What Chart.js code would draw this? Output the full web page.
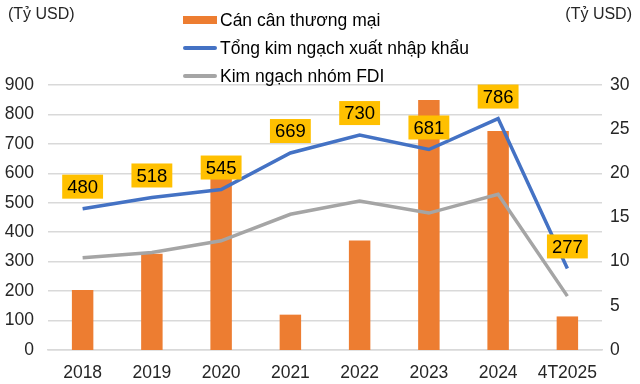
<!DOCTYPE html>
<html>
<head>
<meta charset="utf-8">
<script src="https://cdn.jsdelivr.net/npm/chart.js@4.4.1/dist/chart.umd.min.js"></script>
<style>
    body { margin: 0; background: #fff; font-family: 'Liberation Sans', Arial, sans-serif; }
    #wrap { position: relative; width: 640px; height: 384px; }
    .tieuDe { position: absolute; top: 5px; font-size: 16px; color: #262626; }
    #legenda { position: absolute; left: 183px; top: 6px; font-size: 17.5px; color: #000; }
    #legenda .item { height: 28px; display: flex; align-items: center; }
    #legenda .sw { width: 34px; margin-right: 3px; }
</style>
</head>
<body>
<div id="wrap">
    <canvas id="grafico" width="640" height="384"></canvas>
    <div class="tieuDe" style="left:8px">(Tỷ USD)</div>
    <div class="tieuDe" style="right:8px">(Tỷ USD)</div>
    <div id="legenda"></div>
</div>
<script>
var nam = ['2018', '2019', '2020', '2021', '2022', '2023', '2024', '4T2025'];
var canCan = [6.8, 10.9, 19.6, 4.0, 12.4, 28.3, 24.8, 3.8];
var tongKim = [480, 518, 545, 669, 730, 681, 786, 277];
var kimFDI = [313, 331, 371, 461, 506, 465, 529, 183];
var ticksTrai = [0, 100, 200, 300, 400, 500, 600, 700, 800, 900];
var ticksPhai = [0, 5, 10, 15, 20, 25, 30];

var fonte = "'Liberation Sans', Arial, sans-serif";

var nhanDuLieu = {
    id: 'nhanDuLieu',
    afterDatasetsDraw: function (chart) {
        var ctx = chart.ctx;
        var meta = chart.getDatasetMeta(1);
        ctx.save();
        ctx.font = '18.5px ' + fonte;
        ctx.textAlign = 'center';
        ctx.textBaseline = 'middle';
        meta.data.forEach(function (p, i) {
            var txt = String(tongKim[i]);
            var w = ctx.measureText(txt).width + 10;
            var h = 24;
            var cx = p.x, cy = p.y - 22;
            ctx.fillStyle = '#FFC000';
            ctx.fillRect(cx - w / 2, cy - h / 2, w, h);
            ctx.fillStyle = '#000';
            ctx.fillText(txt, cx, cy + 1);
        });
        ctx.restore();
    }
};

var chart = new Chart(document.getElementById('grafico'), {
    type: 'bar',
    data: {
        labels: nam,
        datasets: [
            {
                type: 'bar',
                label: 'Cán cân thương mại',
                data: canCan,
                yAxisID: 'y1',
                backgroundColor: '#ED7D31',
                barPercentage: 0.62,
                categoryPercentage: 0.5,
                order: 3,
            },
            {
                type: 'line',
                label: 'Tổng kim ngạch xuất nhập khẩu',
                data: tongKim,
                yAxisID: 'y',
                borderColor: '#4472C4',
                borderWidth: 3.5,
                pointRadius: 0,
                tension: 0,
                order: 1,
            },
            {
                type: 'line',
                label: 'Kim ngạch nhóm FDI',
                data: kimFDI,
                yAxisID: 'y',
                borderColor: '#A5A5A5',
                borderWidth: 3.5,
                pointRadius: 0,
                tension: 0,
                order: 2,
            },
        ],
    },
    options: {
        responsive: false,
        animation: false,
        layout: { padding: { top: 85 } },
        plugins: {
            legend: { display: false },
            tooltip: { enabled: false },
        },
        scales: {
            x: {
                grid: { display: false },
                border: { color: '#D9D9D9', width: 1.5 },
                ticks: { color: '#262626', font: { size: 17.5, family: fonte }, padding: 5 },
                afterFit: function (s) { s.height = 34; },
            },
            y: {
                position: 'left',
                min: 0,
                max: 900,
                afterBuildTicks: function (s) { s.ticks = ticksTrai.map(function (v) { return { value: v }; }); },
                grid: { color: '#D9D9D9', lineWidth: 1.5, drawTicks: false },
                border: { display: false },
                ticks: { color: '#262626', font: { size: 17.5, family: fonte }, padding: 14 },
                afterFit: function (s) { s.width = 48; },
            },
            y1: {
                position: 'right',
                min: 0,
                max: 30,
                afterBuildTicks: function (s) { s.ticks = ticksPhai.map(function (v) { return { value: v }; }); },
                grid: { display: false, drawTicks: false },
                border: { display: false },
                ticks: { color: '#262626', font: { size: 17.5, family: fonte }, padding: 8 },
                afterFit: function (s) { s.width = 38; },
            },
        },
    },
    plugins: [nhanDuLieu],
});

// legenda montada a partir dos datasets
var html = '';
chart.data.datasets.forEach(function (d) {
    var sw = d.type === 'bar'
        ? '<span class="sw" style="height:8px;background:' + d.backgroundColor + '"></span>'
        : '<span class="sw" style="height:4px;border-radius:2px;background:' + d.borderColor + '"></span>';
    html += '<div class="item">' + sw + '<span>' + d.label + '</span></div>';
});
document.getElementById('legenda').innerHTML = html;
</script>
</body>
</html>
